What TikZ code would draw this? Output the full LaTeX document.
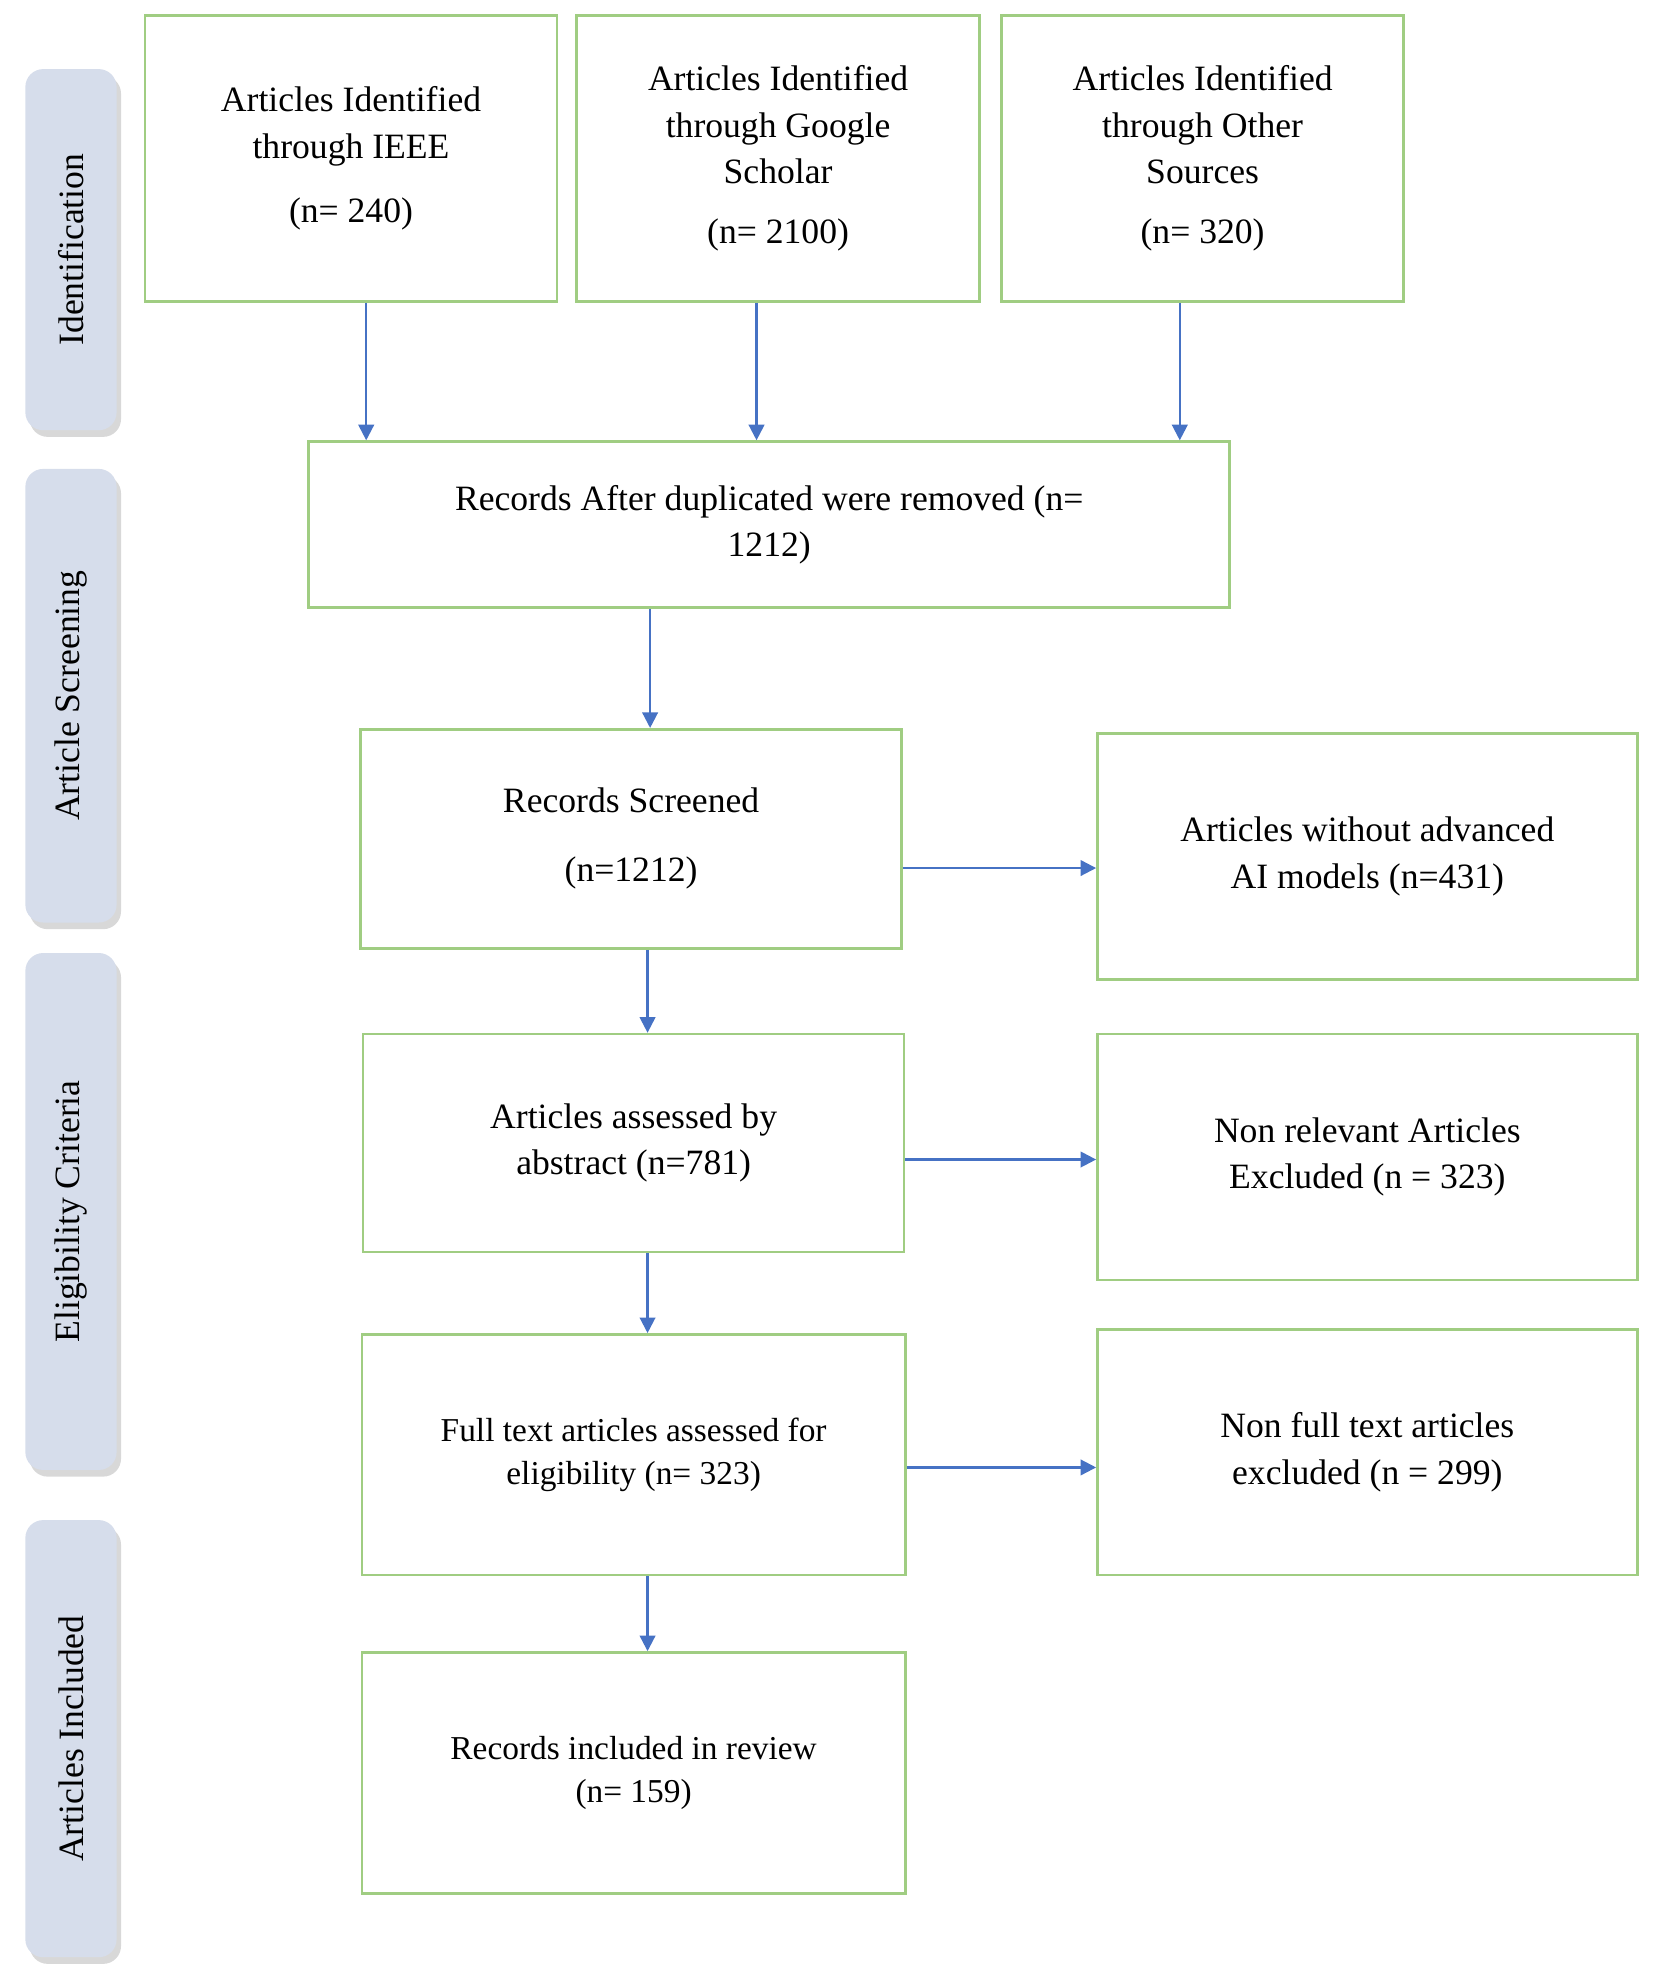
\documentclass[tikz,border=0pt]{standalone}
\usepackage{fontspec}
\setmainfont{Liberation Serif}
\usetikzlibrary{arrows.meta,shadows}
\definecolor{boxgreen}{RGB}{160,205,130}
\definecolor{arrblue}{RGB}{70,114,196}
\definecolor{sidefill}{RGB}{214,221,235}

\begin{document}
\begin{tikzpicture}[x=0.02cm,y=-0.02cm,>={Triangle[length=7pt,width=7pt]}]
    \tikzstyle{box}=[rectangle,draw=boxgreen,line width=1.2pt,align=center,font=\fontsize{16}{21}\selectfont,inner sep=4pt]
    \tikzstyle{stage}=[rectangle,rounded corners=8pt,fill=sidefill,drop shadow={shadow xshift=2pt,shadow yshift=-3pt,fill=gray!60},minimum height=1.44cm,font=\fontsize{16}{20}\selectfont]
    \tikzstyle{arr}=[->,draw=arrblue,line width=1pt]

    \useasboundingbox (0,0) rectangle (1315,1568);

    % stages on the left
    \node [stage,minimum width=5.7cm,rotate=90] at (56,197) (ident) {Identification};
    \node [stage,minimum width=7.16cm,rotate=90] at (56,549) (screen) {Article Screening};
    \node [stage,minimum width=8.16cm,rotate=90] at (56,956) (elig) {Eligibility Criteria};
    \node [stage,minimum width=6.9cm,rotate=90] at (56,1372) (incl) {Articles Included};

    % identification
    \node [box,minimum width=6.5cm,minimum height=4.52cm] at (277,125) (ieee) {Articles Identified\\through IEEE\\[8pt](n= 240)};
    \node [box,minimum width=6.36cm,minimum height=4.52cm] at (614,125) (google) {Articles Identified\\through Google\\Scholar\\[6pt](n= 2100)};
    \node [box,minimum width=6.34cm,minimum height=4.52cm] at (949,125) (other) {Articles Identified\\through Other\\Sources\\[6pt](n= 320)};

    \node [box,minimum width=14.54cm,minimum height=2.62cm] at (607,414) (dup) {Records After duplicated were removed (n=\\1212)};

    % screening and eligibility
    \node [box,minimum width=8.54cm,minimum height=3.46cm] at (498,662) (screened) {Records Screened\\[10pt](n=1212)};
    \node [box,minimum width=8.52cm,minimum height=3.88cm] at (1079,676) (noai) {Articles without advanced\\AI models (n=431)};
    \node [box,minimum width=8.54cm,minimum height=3.44cm] at (500,902) (abstract) {Articles assessed by\\abstract (n=781)};
    \node [box,minimum width=8.52cm,minimum height=3.88cm] at (1079,913) (nonrel) {Non relevant Articles\\Excluded (n = 323)};
    \node [box,minimum width=8.58cm,minimum height=3.8cm,font=\fontsize{15}{19}\selectfont] at (500,1148) (fulltext) {Full text articles assessed for\\eligibility (n= 323)};
    \node [box,minimum width=8.52cm,minimum height=3.88cm] at (1079,1146) (nonfull) {Non full text articles\\excluded (n = 299)};
    \node [box,minimum width=8.58cm,minimum height=3.8cm,font=\fontsize{15}{19}\selectfont] at (500,1399) (included) {Records included in review\\(n= 159)};

    % arrows
    \draw [arr] ([xshift=0.24cm]ieee.south) -- ([xshift=0.24cm]ieee.south |- dup.north);
    \draw [arr] ([xshift=-0.34cm]google.south) -- ([xshift=-0.34cm]google.south |- dup.north);
    \draw [arr] ([xshift=-0.36cm]other.south) -- ([xshift=-0.36cm]other.south |- dup.north);
    \draw [arr] ([xshift=-1.88cm]dup.south) -- ([xshift=-1.88cm]dup.south |- screened.north);
    \draw [arr] ([xshift=0.26cm]screened.south) -- ([xshift=0.26cm]screened.south |- abstract.north);
    \draw [arr] ([xshift=0.22cm]abstract.south) -- ([xshift=0.22cm]abstract.south |- fulltext.north);
    \draw [arr] ([xshift=0.22cm]fulltext.south) -- ([xshift=0.22cm]fulltext.south |- included.north);
    \draw [arr] ([yshift=-0.46cm]screened.east) -- ([yshift=-0.46cm]screened.east -| noai.west);
    \draw [arr] ([yshift=-0.26cm]abstract.east) -- ([yshift=-0.26cm]abstract.east -| nonrel.west);
    \draw [arr] ([yshift=-0.2cm]fulltext.east) -- ([yshift=-0.2cm]fulltext.east -| nonfull.west);
\end{tikzpicture}
\end{document}
